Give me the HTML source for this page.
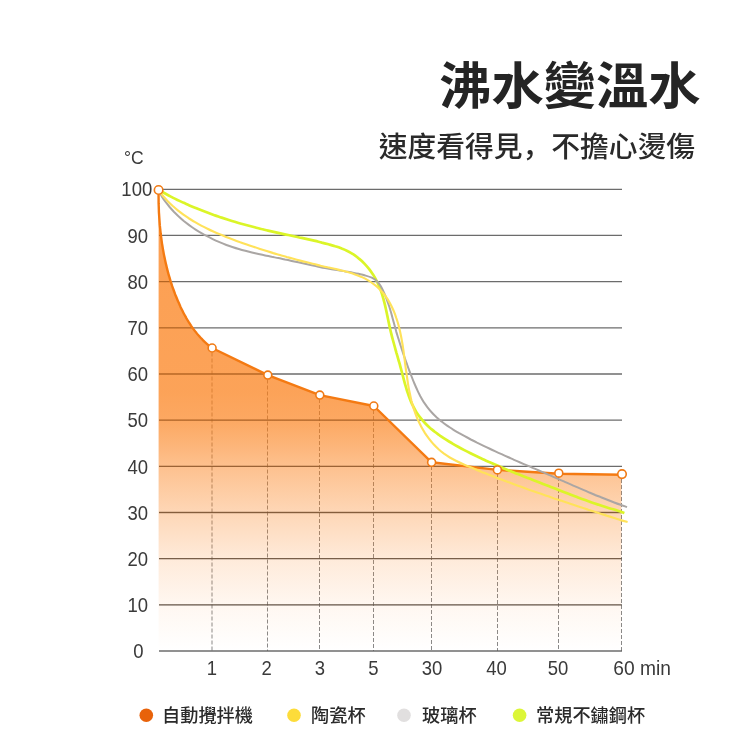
<!DOCTYPE html>
<html lang="zh-Hant">
<head>
<meta charset="utf-8">
<title>沸水變溫水</title>
<style>
html,body{margin:0;padding:0;background:#fff;}
body{width:750px;height:750px;overflow:hidden;position:relative;font-family:"Liberation Sans","Noto Sans CJK TC",sans-serif;}
svg{position:absolute;left:0;top:0;display:block;}
text{font-family:"Liberation Sans","Noto Sans CJK TC",sans-serif;}
.title{font-size:50.4px;font-weight:700;fill:#242424;}
.sub{font-size:28.75px;font-weight:500;fill:#2a2a2a;}
.ax{font-size:18.5px;fill:#3a3a3a;}
.lg{font-size:18.2px;font-weight:500;fill:#2a2a2a;}
.grid line{stroke:#6c6c6c;stroke-width:1.3;}
.gov line{stroke:#5a3210;stroke-opacity:.3;stroke-width:1;}
.dash line{stroke:#5c5c5c;stroke-opacity:.72;stroke-width:1;stroke-dasharray:4 2;}
.pt circle{fill:#fff;stroke:#f07a14;stroke-width:1.6;}
</style>
</head>
<body>
<svg width="750" height="750" viewBox="0 0 750 750">
<defs>
<linearGradient id="og" x1="0" y1="189" x2="0" y2="651" gradientUnits="userSpaceOnUse">
<stop offset="0" stop-color="#fb7d14" stop-opacity="0.74"/>
<stop offset="0.44" stop-color="#fb7d14" stop-opacity="0.71"/>
<stop offset="0.5" stop-color="#fb7d14" stop-opacity="0.67"/>
<stop offset="0.55" stop-color="#fb7d14" stop-opacity="0.58"/>
<stop offset="0.6" stop-color="#fb7d14" stop-opacity="0.48"/>
<stop offset="0.7" stop-color="#fb7d14" stop-opacity="0.31"/>
<stop offset="0.8" stop-color="#fb7d14" stop-opacity="0.16"/>
<stop offset="0.9" stop-color="#fb7d14" stop-opacity="0.06"/>
<stop offset="1" stop-color="#fb7d14" stop-opacity="0"/>
</linearGradient>
<clipPath id="ac"><use href="#area"/></clipPath>
</defs>
<rect width="750" height="750" fill="#fff"/>
<text class="title" transform="translate(700.6,103.9) scale(1.037,1)" x="0" y="0" text-anchor="end">沸水變溫水</text>
<text class="sub" x="695.1" y="157" text-anchor="end">速度看得見<tspan lang="zh-Hans" style="font-family:'Liberation Sans','Noto Sans CJK SC',sans-serif">，</tspan>不擔心燙傷</text>

<g class="grid">
<line x1="159" y1="189.30" x2="622" y2="189.30"/>
<line x1="159" y1="235.47" x2="622" y2="235.47"/>
<line x1="159" y1="281.64" x2="622" y2="281.64"/>
<line x1="159" y1="327.81" x2="622" y2="327.81"/>
<line x1="159" y1="373.98" x2="622" y2="373.98"/>
<line x1="159" y1="420.15" x2="622" y2="420.15"/>
<line x1="159" y1="466.32" x2="622" y2="466.32"/>
<line x1="159" y1="512.49" x2="622" y2="512.49"/>
<line x1="159" y1="558.66" x2="622" y2="558.66"/>
<line x1="159" y1="604.83" x2="622" y2="604.83"/>
<line x1="159" y1="651.00" x2="622" y2="651.00"/>
</g>

<g class="dash">
<line x1="212" y1="352.5" x2="212" y2="651"/>
<line x1="267.5" y1="379.5" x2="267.5" y2="651"/>
<line x1="319.5" y1="399" x2="319.5" y2="651"/>
<line x1="373.5" y1="410" x2="373.5" y2="651"/>
<line x1="431.5" y1="466" x2="431.5" y2="651"/>
<line x1="497.5" y1="474" x2="497.5" y2="651"/>
<line x1="558.5" y1="477" x2="558.5" y2="651"/>
<line x1="621.5" y1="479" x2="621.5" y2="651"/>
</g>

<!-- orange area -->
<path id="area" fill="url(#og)" d="M158.6 190.0 C158.6 190.7 158.6 193.0 158.6 194.5 C158.5 195.9 158.6 197.4 158.6 198.8 C158.6 200.3 158.6 201.7 158.6 203.2 C158.7 204.7 158.7 206.1 158.8 207.6 C158.8 209.1 158.9 210.5 158.9 212.0 C159.0 213.5 159.1 214.9 159.2 216.4 C159.3 217.9 159.4 219.3 159.5 220.8 C159.6 222.3 159.7 223.7 159.8 225.2 C160.0 226.7 160.1 228.2 160.3 229.6 C160.4 231.1 160.6 232.6 160.7 234.0 C160.9 235.5 161.1 237.0 161.3 238.4 C161.5 239.9 161.7 241.4 161.9 242.8 C162.1 244.3 162.4 245.7 162.6 247.2 C162.8 248.7 163.1 250.1 163.4 251.6 C163.6 253.0 163.9 254.5 164.2 255.9 C164.5 257.4 164.8 258.8 165.1 260.3 C165.4 261.7 165.7 263.1 166.1 264.6 C166.4 266.0 166.8 267.5 167.1 268.9 C167.5 270.3 167.9 271.7 168.2 273.2 C168.6 274.6 169.0 276.0 169.5 277.4 C169.9 278.8 170.3 280.2 170.7 281.7 C171.2 283.1 171.7 284.5 172.1 285.9 C172.6 287.2 173.1 288.6 173.6 290.0 C174.1 291.4 174.6 292.8 175.1 294.2 C175.7 295.5 176.2 296.9 176.8 298.3 C177.3 299.6 177.9 301.0 178.5 302.3 C179.1 303.7 179.7 305.0 180.3 306.4 C180.9 307.7 181.5 309.0 182.2 310.3 C182.9 311.7 183.5 313.0 184.2 314.3 C184.9 315.6 185.6 316.8 186.3 318.1 C187.1 319.4 187.8 320.6 188.6 321.9 C189.4 323.1 190.2 324.3 191.0 325.6 C191.8 326.8 192.7 328.0 193.5 329.1 C194.4 330.3 195.3 331.5 196.2 332.6 C197.1 333.8 198.1 334.9 199.1 336.0 C200.0 337.1 201.0 338.2 202.1 339.2 C203.1 340.3 204.1 341.3 205.2 342.3 C206.3 343.3 207.4 344.3 208.6 345.3 C209.7 346.2 211.5 347.5 212.1 348.0 L267.8 375.1 L319.8 395.1 L373.8 406.0 L431.6 462.3 L497.4 469.9 L558.8 473.8 L622.0 474.7 L621.4 474.7 L621.4 651 L158.6 651 Z"/>
<g class="gov" clip-path="url(#ac)">
<line x1="159" y1="235.47" x2="622" y2="235.47"/>
<line x1="159" y1="281.64" x2="622" y2="281.64"/>
<line x1="159" y1="327.81" x2="622" y2="327.81"/>
<line x1="159" y1="373.98" x2="622" y2="373.98"/>
<line x1="159" y1="420.15" x2="622" y2="420.15"/>
<line x1="159" y1="466.32" x2="622" y2="466.32"/>
<line x1="159" y1="512.49" x2="622" y2="512.49"/>
<line x1="159" y1="558.66" x2="622" y2="558.66"/>
<line x1="159" y1="604.83" x2="622" y2="604.83"/>
</g>

<!-- curves -->

<path id="oline" fill="none" stroke="#f47a12" stroke-width="2.4" stroke-linejoin="round" d="M158.6 190.0 C158.6 190.7 158.6 193.0 158.6 194.5 C158.5 195.9 158.6 197.4 158.6 198.8 C158.6 200.3 158.6 201.7 158.6 203.2 C158.7 204.7 158.7 206.1 158.8 207.6 C158.8 209.1 158.9 210.5 158.9 212.0 C159.0 213.5 159.1 214.9 159.2 216.4 C159.3 217.9 159.4 219.3 159.5 220.8 C159.6 222.3 159.7 223.7 159.8 225.2 C160.0 226.7 160.1 228.2 160.3 229.6 C160.4 231.1 160.6 232.6 160.7 234.0 C160.9 235.5 161.1 237.0 161.3 238.4 C161.5 239.9 161.7 241.4 161.9 242.8 C162.1 244.3 162.4 245.7 162.6 247.2 C162.8 248.7 163.1 250.1 163.4 251.6 C163.6 253.0 163.9 254.5 164.2 255.9 C164.5 257.4 164.8 258.8 165.1 260.3 C165.4 261.7 165.7 263.1 166.1 264.6 C166.4 266.0 166.8 267.5 167.1 268.9 C167.5 270.3 167.9 271.7 168.2 273.2 C168.6 274.6 169.0 276.0 169.5 277.4 C169.9 278.8 170.3 280.2 170.7 281.7 C171.2 283.1 171.7 284.5 172.1 285.9 C172.6 287.2 173.1 288.6 173.6 290.0 C174.1 291.4 174.6 292.8 175.1 294.2 C175.7 295.5 176.2 296.9 176.8 298.3 C177.3 299.6 177.9 301.0 178.5 302.3 C179.1 303.7 179.7 305.0 180.3 306.4 C180.9 307.7 181.5 309.0 182.2 310.3 C182.9 311.7 183.5 313.0 184.2 314.3 C184.9 315.6 185.6 316.8 186.3 318.1 C187.1 319.4 187.8 320.6 188.6 321.9 C189.4 323.1 190.2 324.3 191.0 325.6 C191.8 326.8 192.7 328.0 193.5 329.1 C194.4 330.3 195.3 331.5 196.2 332.6 C197.1 333.8 198.1 334.9 199.1 336.0 C200.0 337.1 201.0 338.2 202.1 339.2 C203.1 340.3 204.1 341.3 205.2 342.3 C206.3 343.3 207.4 344.3 208.6 345.3 C209.7 346.2 211.5 347.5 212.1 348.0 L267.8 375.1 L319.8 395.1 L373.8 406.0 L431.6 462.3 L497.4 469.9 L558.8 473.8 L622.0 474.7"/>
<path id="green" fill="none" stroke="#dbf528" stroke-width="2.7" d="M158.6 190.0 C159.6 190.5 162.7 192.2 164.7 193.3 C166.7 194.4 168.7 195.5 170.8 196.6 C172.8 197.6 174.8 198.7 176.9 199.7 C179.0 200.7 181.0 201.6 183.1 202.6 C185.2 203.5 187.3 204.5 189.4 205.4 C191.5 206.3 193.6 207.2 195.7 208.0 C197.9 208.9 200.0 209.8 202.1 210.6 C204.3 211.4 206.4 212.2 208.6 213.0 C210.7 213.8 212.9 214.6 215.0 215.4 C217.2 216.1 219.4 216.9 221.6 217.6 C223.7 218.3 225.9 219.0 228.1 219.7 C230.3 220.4 232.5 221.1 234.7 221.7 C236.9 222.4 239.1 223.1 241.3 223.7 C243.6 224.3 245.8 224.9 248.0 225.5 C250.2 226.1 252.4 226.7 254.7 227.3 C256.9 227.9 259.1 228.4 261.4 229.0 C263.6 229.5 265.8 230.1 268.1 230.6 C270.3 231.1 272.5 231.6 274.8 232.1 C277.0 232.6 279.3 233.1 281.5 233.6 C283.8 234.1 286.0 234.6 288.3 235.0 C290.5 235.5 292.7 236.0 295.0 236.5 C297.2 237.0 299.5 237.4 301.7 237.9 C304.0 238.4 306.2 238.9 308.4 239.4 C310.7 239.9 312.9 240.4 315.2 240.9 C317.4 241.5 319.6 242.0 321.8 242.6 C324.1 243.1 326.3 243.7 328.5 244.3 C330.7 244.9 333.0 245.5 335.2 246.2 C337.3 246.8 339.5 247.5 341.7 248.4 C343.8 249.2 345.9 250.1 347.9 251.2 C349.9 252.2 351.9 253.4 353.8 254.7 C355.7 256.0 357.6 257.4 359.3 258.9 C361.1 260.3 362.8 261.9 364.4 263.6 C366.0 265.3 367.5 267.0 369.0 268.8 C370.4 270.6 371.7 272.5 373.0 274.4 C374.2 276.4 375.4 278.4 376.4 280.4 C377.5 282.4 378.4 284.5 379.3 286.6 C380.2 288.7 380.9 290.9 381.7 293.1 C382.4 295.2 383.0 297.5 383.6 299.7 C384.2 301.9 384.8 304.2 385.3 306.4 C385.8 308.7 386.3 310.9 386.8 313.2 C387.3 315.5 387.7 317.7 388.2 320.0 C388.7 322.2 389.1 324.5 389.6 326.7 C390.1 329.0 390.7 331.2 391.2 333.4 C391.7 335.6 392.3 337.8 392.9 340.0 C393.5 342.2 394.1 344.3 394.7 346.5 C395.3 348.7 395.9 350.9 396.5 353.1 C397.2 355.2 397.8 357.4 398.4 359.6 C399.0 361.8 399.7 364.0 400.3 366.3 C400.9 368.5 401.5 370.7 402.1 373.0 C402.7 375.3 403.3 377.6 403.9 379.8 C404.5 382.1 405.1 384.4 405.8 386.7 C406.4 388.9 407.1 391.2 407.9 393.4 C408.6 395.6 409.4 397.8 410.3 400.0 C411.1 402.1 412.0 404.2 413.1 406.2 C414.1 408.3 415.2 410.2 416.4 412.1 C417.6 414.0 418.9 415.8 420.3 417.6 C421.7 419.4 423.1 421.0 424.7 422.7 C426.2 424.3 427.8 425.9 429.5 427.4 C431.2 428.9 433.0 430.3 434.7 431.8 C436.5 433.2 438.4 434.5 440.3 435.9 C442.2 437.2 444.1 438.5 446.1 439.7 C448.0 441.0 450.0 442.2 452.1 443.3 C454.1 444.5 456.1 445.7 458.1 446.8 C460.2 447.9 462.2 449.0 464.3 450.1 C466.3 451.2 468.4 452.2 470.5 453.2 C472.5 454.3 474.6 455.3 476.7 456.3 C478.8 457.3 480.8 458.3 482.9 459.2 C485.0 460.2 487.1 461.1 489.2 462.1 C491.3 463.0 493.4 463.9 495.5 464.8 C497.6 465.8 499.7 466.6 501.8 467.5 C503.9 468.4 506.0 469.3 508.1 470.2 C510.3 471.0 512.4 471.9 514.5 472.7 C516.6 473.6 518.7 474.4 520.9 475.3 C523.0 476.1 525.1 476.9 527.2 477.8 C529.4 478.6 531.5 479.4 533.6 480.3 C535.8 481.1 537.9 481.9 540.1 482.7 C542.2 483.6 544.3 484.4 546.5 485.2 C548.6 486.1 550.8 486.9 552.9 487.7 C555.0 488.6 557.2 489.4 559.3 490.2 C561.5 491.1 563.6 491.9 565.8 492.7 C567.9 493.6 570.1 494.4 572.2 495.2 C574.4 496.1 576.6 496.9 578.7 497.7 C580.9 498.5 583.0 499.3 585.2 500.1 C587.4 500.9 589.5 501.6 591.7 502.4 C593.9 503.2 596.0 503.9 598.2 504.6 C600.4 505.4 602.6 506.1 604.8 506.8 C606.9 507.5 609.1 508.1 611.3 508.8 C613.5 509.4 615.7 510.0 617.9 510.7 C620.1 511.4 623.3 512.6 624.4 513.0"/>
<path id="gray" fill="none" stroke="#aaa6a4" stroke-width="2" d="M158.6 190.0 C159.1 191.0 160.5 194.1 161.6 196.1 C162.8 198.0 164.1 199.9 165.4 201.7 C166.8 203.5 168.2 205.3 169.6 207.0 C171.1 208.7 172.6 210.4 174.1 212.0 C175.7 213.6 177.3 215.2 179.0 216.7 C180.7 218.3 182.4 219.8 184.1 221.2 C185.9 222.6 187.7 224.0 189.5 225.4 C191.4 226.7 193.2 228.0 195.2 229.3 C197.1 230.5 199.0 231.7 201.0 232.9 C203.0 234.1 205.0 235.2 207.0 236.2 C209.0 237.3 211.1 238.3 213.2 239.3 C215.3 240.3 217.4 241.2 219.5 242.1 C221.6 243.0 223.7 243.9 225.8 244.7 C228.0 245.5 230.1 246.3 232.3 247.0 C234.4 247.7 236.6 248.4 238.8 249.0 C240.9 249.7 243.1 250.3 245.3 250.8 C247.5 251.4 249.7 252.0 251.9 252.5 C254.1 253.0 256.3 253.5 258.5 254.0 C260.7 254.5 262.9 255.0 265.1 255.4 C267.3 255.9 269.5 256.3 271.7 256.8 C273.9 257.2 276.1 257.7 278.4 258.1 C280.6 258.6 282.8 259.0 285.0 259.5 C287.2 259.9 289.5 260.4 291.7 260.9 C293.9 261.4 296.1 261.9 298.3 262.3 C300.6 262.8 302.8 263.3 305.0 263.8 C307.2 264.3 309.4 264.8 311.7 265.3 C313.9 265.8 316.1 266.3 318.3 266.7 C320.6 267.2 322.8 267.7 325.0 268.1 C327.3 268.5 329.5 268.9 331.7 269.3 C334.0 269.6 336.2 270.0 338.4 270.3 C340.7 270.7 342.9 271.0 345.2 271.4 C347.4 271.7 349.6 272.1 351.9 272.5 C354.1 272.9 356.4 273.3 358.6 273.8 C360.8 274.3 363.1 274.8 365.3 275.5 C367.5 276.1 369.8 276.7 371.8 277.7 C373.8 278.7 375.7 279.8 377.2 281.4 C378.8 282.9 379.9 284.9 381.1 286.8 C382.2 288.8 383.2 290.9 384.1 292.9 C385.1 295.0 385.9 297.1 386.7 299.3 C387.5 301.4 388.3 303.6 389.0 305.7 C389.7 307.9 390.3 310.1 391.0 312.3 C391.6 314.5 392.2 316.7 392.8 318.9 C393.4 321.1 394.0 323.3 394.6 325.5 C395.2 327.7 395.8 329.9 396.4 332.1 C397.1 334.3 397.7 336.5 398.4 338.6 C399.0 340.8 399.7 342.9 400.4 345.0 C401.1 347.2 401.8 349.3 402.5 351.4 C403.2 353.6 403.9 355.7 404.7 357.8 C405.4 359.9 406.2 362.1 407.0 364.2 C407.7 366.3 408.5 368.5 409.3 370.6 C410.1 372.7 411.0 374.9 411.8 377.0 C412.6 379.2 413.5 381.4 414.4 383.5 C415.3 385.6 416.2 387.7 417.2 389.8 C418.1 391.9 419.2 394.0 420.2 396.0 C421.3 398.0 422.4 400.0 423.6 401.9 C424.9 403.8 426.1 405.6 427.5 407.4 C428.8 409.2 430.3 410.9 431.8 412.5 C433.3 414.2 434.9 415.7 436.5 417.2 C438.2 418.7 439.9 420.2 441.7 421.6 C443.4 423.0 445.2 424.3 447.1 425.6 C449.0 426.9 450.9 428.1 452.8 429.4 C454.7 430.6 456.7 431.7 458.7 432.9 C460.7 434.0 462.7 435.1 464.7 436.2 C466.8 437.3 468.8 438.4 470.8 439.5 C472.9 440.5 474.9 441.5 477.0 442.6 C479.0 443.6 481.1 444.6 483.1 445.6 C485.1 446.6 487.2 447.6 489.3 448.5 C491.3 449.5 493.4 450.5 495.4 451.4 C497.5 452.4 499.5 453.3 501.6 454.2 C503.7 455.2 505.7 456.1 507.8 457.0 C509.9 457.9 511.9 458.9 514.0 459.8 C516.1 460.7 518.1 461.6 520.2 462.5 C522.3 463.4 524.3 464.3 526.4 465.2 C528.5 466.1 530.6 467.0 532.6 467.9 C534.7 468.7 536.8 469.6 538.9 470.5 C541.0 471.4 543.0 472.3 545.1 473.2 C547.2 474.1 549.3 475.0 551.4 475.9 C553.4 476.9 555.5 477.8 557.6 478.7 C559.7 479.6 561.8 480.5 563.9 481.4 C565.9 482.3 568.0 483.3 570.1 484.2 C572.2 485.1 574.3 486.0 576.4 486.9 C578.5 487.8 580.6 488.7 582.7 489.6 C584.8 490.5 586.8 491.4 588.9 492.3 C591.0 493.2 593.1 494.1 595.2 495.0 C597.3 495.8 599.4 496.7 601.6 497.5 C603.7 498.4 605.8 499.2 607.9 500.0 C610.0 500.9 612.1 501.7 614.2 502.5 C616.3 503.3 618.4 504.1 620.6 504.8 C622.7 505.6 625.9 506.6 627.0 507.0"/>
<path id="yellow" fill="none" stroke="#ffe25a" stroke-width="2.15" d="M158.6 190.0 C159.3 190.9 161.3 193.9 162.8 195.7 C164.3 197.5 165.9 199.2 167.5 200.9 C169.2 202.6 170.8 204.2 172.5 205.8 C174.3 207.4 176.0 208.9 177.8 210.3 C179.6 211.8 181.5 213.2 183.4 214.6 C185.2 215.9 187.2 217.2 189.1 218.5 C191.1 219.7 193.1 221.0 195.1 222.1 C197.1 223.3 199.1 224.5 201.2 225.6 C203.3 226.7 205.4 227.7 207.5 228.7 C209.6 229.8 211.7 230.8 213.9 231.7 C216.0 232.7 218.2 233.6 220.4 234.5 C222.5 235.5 224.7 236.3 226.9 237.2 C229.1 238.1 231.3 238.9 233.5 239.7 C235.7 240.6 237.9 241.4 240.2 242.2 C242.4 242.9 244.6 243.7 246.8 244.5 C249.0 245.3 251.2 246.0 253.4 246.7 C255.6 247.5 257.8 248.2 260.0 248.9 C262.3 249.6 264.5 250.3 266.7 251.0 C268.9 251.7 271.1 252.4 273.3 253.1 C275.6 253.7 277.8 254.4 280.0 255.0 C282.2 255.7 284.5 256.3 286.7 257.0 C288.9 257.6 291.2 258.2 293.4 258.8 C295.7 259.4 297.9 260.0 300.2 260.6 C302.4 261.2 304.7 261.8 307.0 262.3 C309.2 262.9 311.5 263.5 313.8 264.0 C316.1 264.6 318.3 265.1 320.6 265.7 C322.9 266.2 325.2 266.7 327.6 267.3 C329.9 267.8 332.2 268.3 334.5 268.8 C336.8 269.4 339.2 269.9 341.5 270.5 C343.8 271.0 346.1 271.6 348.4 272.3 C350.6 272.9 352.9 273.6 355.1 274.4 C357.3 275.1 359.4 276.0 361.5 276.9 C363.6 277.9 365.7 278.9 367.7 280.1 C369.6 281.2 371.6 282.5 373.4 283.9 C375.2 285.2 377.0 286.7 378.6 288.3 C380.3 289.9 381.8 291.5 383.3 293.3 C384.8 295.1 386.1 297.0 387.4 298.9 C388.6 300.9 389.8 302.9 390.9 305.0 C392.0 307.1 392.9 309.2 393.9 311.4 C394.8 313.6 395.6 315.8 396.3 318.0 C397.1 320.3 397.8 322.6 398.4 324.8 C399.0 327.1 399.6 329.4 400.1 331.7 C400.6 334.0 401.1 336.3 401.5 338.6 C401.9 340.9 402.3 343.2 402.7 345.5 C403.0 347.8 403.4 350.1 403.7 352.4 C404.0 354.8 404.3 357.1 404.6 359.4 C404.9 361.8 405.2 364.1 405.5 366.4 C405.8 368.8 406.1 371.1 406.5 373.4 C406.8 375.8 407.1 378.1 407.5 380.4 C407.8 382.7 408.2 385.1 408.6 387.4 C409.0 389.7 409.5 392.0 410.0 394.2 C410.4 396.5 411.0 398.8 411.5 401.0 C412.1 403.3 412.7 405.5 413.4 407.7 C414.1 409.9 414.9 412.1 415.7 414.3 C416.5 416.5 417.4 418.6 418.3 420.8 C419.3 422.9 420.3 425.0 421.4 427.0 C422.6 429.1 423.8 431.1 425.0 433.1 C426.3 435.1 427.7 437.0 429.1 438.9 C430.5 440.8 432.1 442.6 433.6 444.3 C435.2 446.1 436.9 447.7 438.6 449.3 C440.3 450.8 442.2 452.3 444.0 453.7 C445.9 455.1 447.8 456.3 449.8 457.5 C451.8 458.7 453.9 459.8 455.9 460.8 C458.0 461.9 460.1 462.9 462.3 463.8 C464.4 464.8 466.6 465.7 468.7 466.6 C470.9 467.5 473.1 468.4 475.3 469.2 C477.4 470.1 479.6 471.0 481.8 471.9 C483.9 472.7 486.1 473.6 488.3 474.4 C490.5 475.3 492.7 476.1 494.9 477.0 C497.0 477.8 499.2 478.7 501.4 479.5 C503.6 480.3 505.8 481.1 508.0 482.0 C510.2 482.8 512.4 483.6 514.6 484.4 C516.7 485.2 518.9 486.0 521.1 486.8 C523.3 487.6 525.5 488.4 527.7 489.2 C529.9 489.9 532.1 490.7 534.3 491.5 C536.5 492.3 538.8 493.1 541.0 493.8 C543.2 494.6 545.4 495.3 547.6 496.1 C549.8 496.9 552.0 497.6 554.2 498.4 C556.4 499.1 558.6 499.9 560.9 500.6 C563.1 501.4 565.3 502.1 567.5 502.8 C569.7 503.6 571.9 504.3 574.1 505.0 C576.4 505.8 578.6 506.5 580.8 507.2 C583.0 508.0 585.2 508.7 587.5 509.4 C589.7 510.1 591.9 510.8 594.1 511.6 C596.4 512.3 598.6 513.0 600.8 513.7 C603.0 514.4 605.3 515.1 607.5 515.9 C609.7 516.6 611.9 517.3 614.2 518.0 C616.4 518.7 618.6 519.5 620.8 520.1 C623.1 520.8 626.5 521.7 627.6 522.0"/>
<g class="pt">
<circle cx="158.6" cy="190" r="4.25"/>
<circle cx="212.1" cy="348" r="3.95"/>
<circle cx="267.8" cy="375.1" r="3.95"/>
<circle cx="319.8" cy="395.1" r="3.95"/>
<circle cx="373.8" cy="406" r="3.95"/>
<circle cx="431.6" cy="462.3" r="3.95"/>
<circle cx="497.4" cy="469.9" r="3.95"/>
<circle cx="558.8" cy="473.2" r="3.95"/>
<circle cx="622" cy="474.1" r="4.25"/>
</g>

<g class="ax" text-anchor="end">
<text transform="translate(152.2,196.4) scale(1,1.07)">100</text>
<text transform="translate(148.0,242.6) scale(1,1.07)">90</text>
<text transform="translate(148.0,288.8) scale(1,1.07)">80</text>
<text transform="translate(148.0,335.0) scale(1,1.07)">70</text>
<text transform="translate(148.0,381.2) scale(1,1.07)">60</text>
<text transform="translate(148.0,427.4) scale(1,1.07)">50</text>
<text transform="translate(148.0,473.6) scale(1,1.07)">40</text>
<text transform="translate(148.0,519.8) scale(1,1.07)">30</text>
<text transform="translate(148.0,566.0) scale(1,1.07)">20</text>
<text transform="translate(148.0,612.2) scale(1,1.07)">10</text>
<text transform="translate(143.5,658.4) scale(1,1.07)">0</text>
</g>
<text class="ax" transform="translate(124,163.6) scale(1,1.07)" style="font-size:17.5px">°C</text>
<g class="ax" text-anchor="middle">
<text transform="translate(212.0,674.6) scale(1,1.07)">1</text>
<text transform="translate(266.6,674.6) scale(1,1.07)">2</text>
<text transform="translate(320.0,674.6) scale(1,1.07)">3</text>
<text transform="translate(373.4,674.6) scale(1,1.07)">5</text>
<text transform="translate(432.0,674.6) scale(1,1.07)">30</text>
<text transform="translate(496.4,674.6) scale(1,1.07)">40</text>
<text transform="translate(558.0,674.6) scale(1,1.07)">50</text>
<text text-anchor="start" transform="translate(613.2,674.6) scale(1.04,1.07)">60 min</text>
</g>

<circle cx="146.3" cy="715.2" r="6.8" fill="#e8620a"/>
<text class="lg" x="162" y="721.6">自動攪拌機</text>
<circle cx="294" cy="715.2" r="6.8" fill="#fddc3a"/>
<text class="lg" x="311" y="721.6">陶瓷杯</text>
<circle cx="404" cy="715.2" r="6.8" fill="#e1dfdf"/>
<text class="lg" x="422" y="721.6">玻璃杯</text>
<circle cx="519.6" cy="715.2" r="6.8" fill="#dcf638"/>
<text class="lg" x="536" y="721.6">常規不鏽鋼杯</text>
</svg>
</body>
</html>
